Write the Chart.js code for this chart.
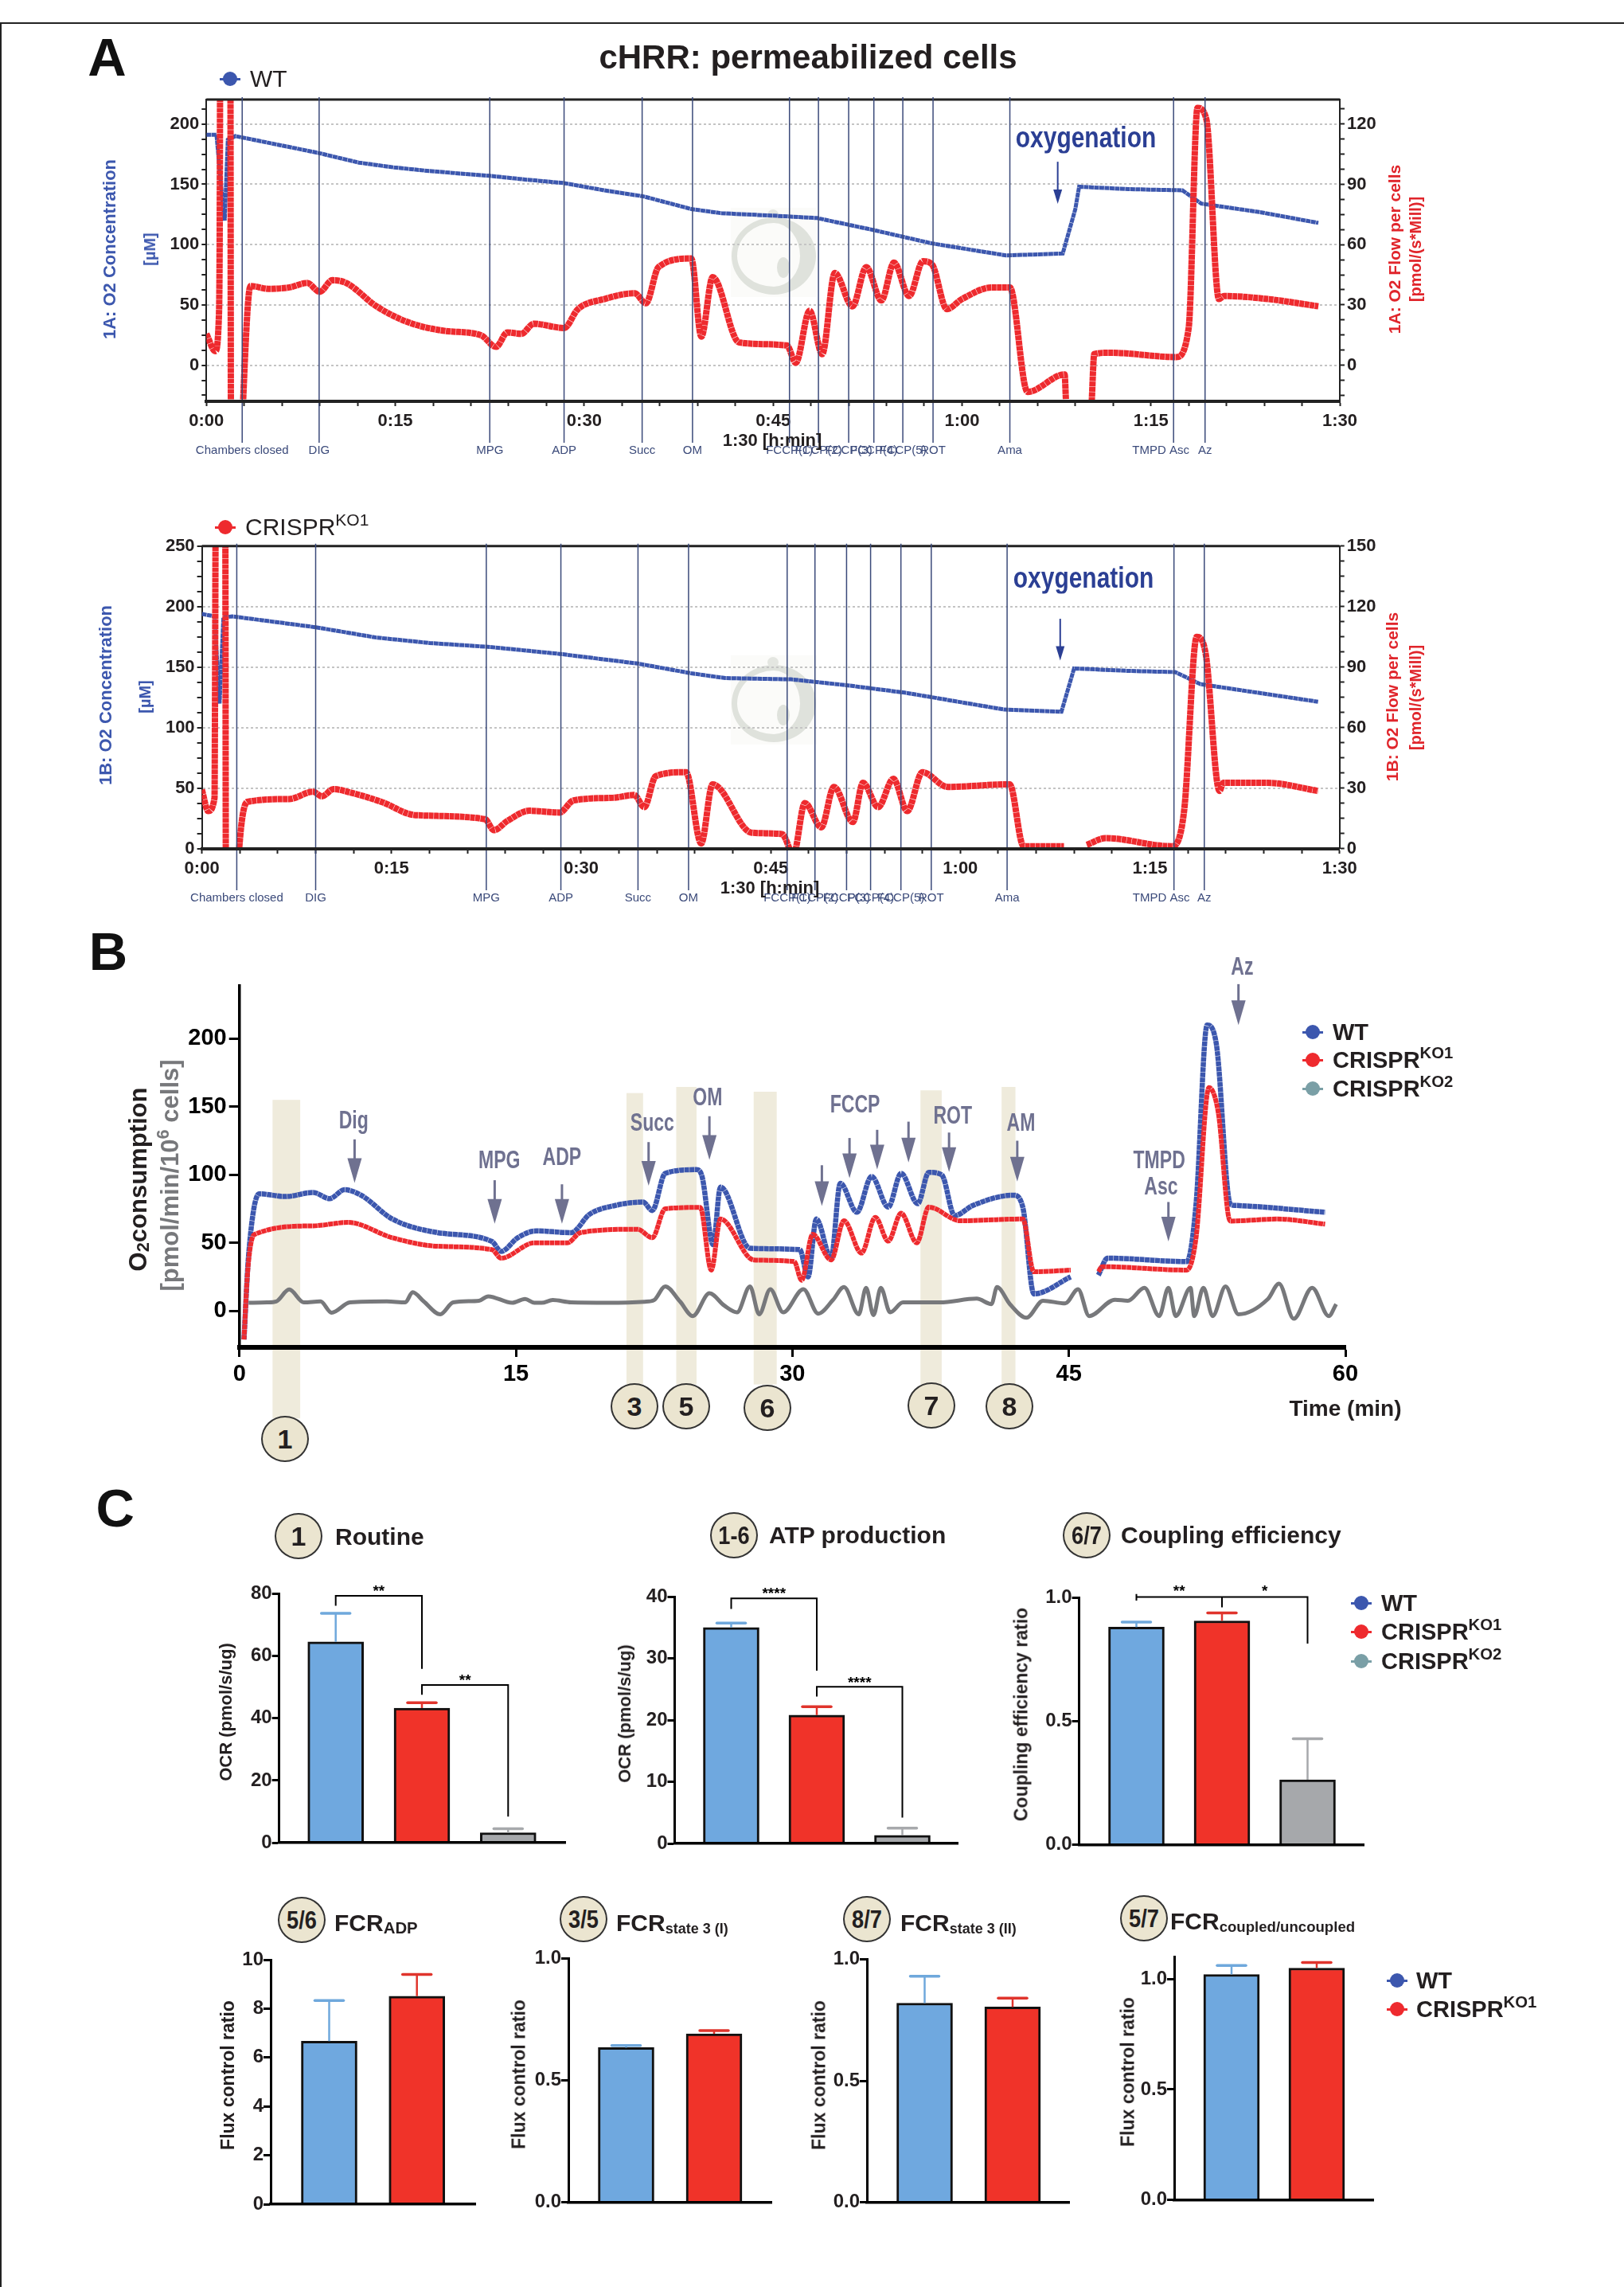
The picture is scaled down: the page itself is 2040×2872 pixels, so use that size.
<!DOCTYPE html>
<html>
<head>
<meta charset="utf-8">
<title>cHRR: permeabilized cells</title>
<script src="https://cdn.jsdelivr.net/npm/chart.js@4"></script>
<style>
  html, body { margin: 0; padding: 0; background: #fff; }
  #page { position: relative; width: 2040px; height: 2872px; overflow: hidden; background: #fff; font-family: "Liberation Sans", Arial, sans-serif; color: #231f20; }
  canvas { position: absolute; left: 0; top: 0; pointer-events: none; }
  .t { position: absolute; white-space: nowrap; line-height: 1; }
  .t sup { font-size: .7em; vertical-align: .55em; line-height: 0; }
  .t sub { vertical-align: -.15em; line-height: 0; }
</style>
</head>
<body>
<div id="page"></div>
<script>
// panel A, top trace (WT)
const a1O2Time = [0, 0.8, 1.25, 1.45, 1.7, 2.3, 8.9, 12.1, 14.9, 17.7, 22.5, 25.3, 28.4, 31.6, 34.7, 38.5, 40.9, 45, 48.5, 53, 57.6, 63.5, 68, 69, 69.3, 73.2, 77.5, 79, 83.6, 88.3];
const a1O2 = [191, 191, 139, 120, 187, 190, 176, 168, 164, 161, 157, 154, 151, 145, 140, 129.5, 126, 124, 122, 112, 101, 91, 92.6, 129.5, 148, 146, 145, 134, 127, 118];
const a1FlowTime = [0, 0.7, 1, 1.05, 1.1, 1.9, 1.95, 2.8, 2.9, 3.5, 4.9, 6.6, 8, 9, 10, 11.1, 13.5, 16, 19, 21.8, 23, 23.9, 25, 26, 28.4, 29.5, 31.6, 34, 34.9, 35.9, 38.5, 39.3, 40.2, 42.3, 46.1, 46.8, 47.9, 48.9, 49.9, 51.3, 52.4, 53.6, 54.6, 55.8, 56.9, 57.6, 58.8, 60, 62.4, 63.8, 65.2, 68.15, 68.25, 69, 70.3, 70.5, 71.8, 77, 78, 78.7, 79.4, 80.4, 80.8, 84.3, 88.3];
const a1Flow = [15.6, 7, 26, 60, 160, 160, -40, -40, -20, 39.4, 38, 38.7, 40.9, 36.5, 42.3, 40.9, 29.3, 21.4, 17, 14.9, 9.1, 16.3, 15.6, 20.6, 18.5, 27.9, 32.9, 35.8, 30.8, 48.8, 53.1, 14.2, 43.8, 11.3, 9.8, 1.2, 27.1, 5.5, 45.9, 29.3, 48.8, 32.2, 51, 34.4, 51.7, 50.3, 27.9, 32.9, 38.7, 38.7, -13.3, -4.6, -17, null, -18.3, 5.5, 6.2, 4, 18.5, 128, 122.5, 32.9, 34.4, 32.9, 29.3];

// panel A, bottom trace (CRISPR KO1)
const a2O2Time = [0, 1, 1.4, 1.7, 2.4, 9, 13.8, 18, 22.8, 28.3, 34.5, 38.7, 41.4, 46.6, 51.1, 55.6, 63.5, 68, 69, 73.2, 77, 79, 88.3];
const a2O2 = [194, 192, 120, 191, 192, 183, 174.5, 170, 166.7, 161, 153, 145, 141, 140, 135, 129, 115, 113.3, 149, 147, 146, 136, 121.5];
const a2FlowTime = [0, 0.5, 1, 1.03, 1.1, 1.85, 1.9, 2.8, 2.95, 3.6, 6.9, 8.8, 9.5, 10.4, 11.7, 14.2, 16.9, 22.4, 23.1, 24.2, 25.9, 28.3, 29.4, 32.5, 34.2, 35, 35.9, 38.3, 39.5, 40.4, 43.5, 45.9, 46.8, 47.7, 49, 50, 51.5, 52.3, 53.5, 54.7, 55.8, 57, 59, 63.9, 65, 68.2, 69, 70, 71.5, 76.7, 77.7, 78.7, 79.4, 80.5, 80.8, 84.3, 88.3];
const a2Flow = [29.3, 18.7, 25.3, 60, 170, 170, -20, -20, 0, 23.3, 24.7, 28.3, 26, 29.6, 28, 23.3, 16.7, 14.7, 9.3, 14, 18.9, 18, 24, 25.3, 26.7, 20.7, 36, 38, 2.7, 32, 8, 7.3, -2.7, 22.7, 10.7, 30.7, 13.3, 32.7, 20.7, 34.7, 18.7, 38, 30.7, 32, 1.3, 1.3, null, 2, 5.3, 1.3, 18.7, 105, 97, 28.7, 32.7, 32.7, 28.7];

// injection marks of the respirometry runs
const eventNames = ['Chambers closed', 'DIG', 'MPG', 'ADP', 'Succ', 'OM', 'FCCP(1)', 'FCCP(2)', 'FCCP(3)', 'FCCP(4)', 'FCCP(5)', 'ROT', 'Ama', 'TMPD Asc', 'Az'];
const a1EventTimes = [2.84, 8.95, 22.5, 28.4, 34.6, 38.6, 46.3, 48.6, 51, 53, 55.3, 57.7, 63.8, 76.8, 79.3];
const a2EventTimes = [2.76, 9, 22.5, 28.4, 34.5, 38.5, 46.3, 48.5, 51, 52.9, 55.3, 57.7, 63.7, 76.9, 79.3];
const timeTicks = [0, 15, 30, 45, 60, 75, 90];

// panel B traces
const bWtTime = [0.25, 0.5, 1.07, 2.5, 4, 4.9, 5.7, 6.6, 8.3, 10.75, 13.7, 14.2, 15.1, 16.1, 18, 19, 20.4, 21.9, 22.4, 23.1, 24.8, 25.1, 25.7, 26.1, 27.7, 30.4, 30.85, 31.3, 32.1, 32.6, 33.5, 34.3, 35.2, 35.9, 36.8, 37.4, 38.1, 38.8, 39.8, 42, 42.5, 43.1, 45.1, 45.8, 46.6, 47.1, 51.4, 51.9, 52.5, 53, 53.75, 54, 58.9];
const bWt = [-21, 41, 86, 84, 87, 82.5, 89, 85, 67.5, 57.5, 51, 43.75, 53.75, 58.75, 57.5, 71, 77.5, 80, 73.75, 101, 103.75, 98.75, 48.75, 91, 46, 45, 25, 67.5, 38.75, 93.75, 72.5, 98.75, 76.25, 101, 78.75, 101.75, 100, 70, 77.5, 85, 76.25, 12.5, 25, null, 26.25, 38.75, 36.25, 78.75, 210, 196, 78.75, 77.5, 72.5];
const bKo1Time = [0.25, 0.45, 0.8, 4, 5.9, 8.3, 10.75, 13.7, 14.2, 16, 17.8, 18.5, 21.6, 22.4, 23.1, 25, 25.6, 26.1, 27.9, 30.1, 30.5, 31.1, 32.1, 32.8, 33.75, 34.5, 35.2, 35.9, 36.75, 37.4, 39.1, 42.5, 43.1, 45.1, 45.8, 46.6, 46.8, 51.4, 51.9, 52.6, 53.1, 53.75, 56.3, 58.9];
const bKo1 = [-21, 29, 56, 62.5, 65, 53.75, 47.5, 45, 38.75, 50, 50, 57.5, 60, 53.75, 75, 76, 30, 67.5, 37.5, 36.25, 22.5, 56.25, 37.5, 66.25, 42.5, 68.75, 51.25, 71.75, 50, 76.25, 66.25, 67.5, 28.75, 30, null, 28.75, 32.5, 30, 53.75, 164, 146, 66, 67.5, 63.75];
const bKo2Time = [0.5, 1.5, 2.0, 2.7, 3.5, 4.4, 5, 6, 8, 9, 9.4, 10, 10.9, 11.6, 13, 13.5, 14.8, 15.5, 16, 16.4, 17, 18, 20, 22, 22.5, 23.1, 23.9, 24.6, 25.5, 26.3, 27, 27.7, 28.2, 28.8, 29.5, 30.6, 31.4, 32.2, 32.8, 33.6, 34, 34.4, 34.8, 35.3, 36, 38, 40, 40.8, 41.1, 41.8, 42.7, 43.6, 44.8, 45.5, 46.1, 47.5, 48.2, 49.1, 49.9, 50.4, 50.8, 51.6, 51.8, 52.3, 52.8, 53.5, 54.2, 55.8, 56.4, 57.2, 58.2, 59.1, 59.5];
const bKo2 = [6, 6.25, 7, 15.75, 6.25, 7, -1.25, 6.25, 7, 6.25, 13.75, 7, -2.5, 6.25, 7.5, 10.75, 6, 8.75, 6, 6, 8, 6.25, 6, 6.75, 8, 18, 7, -3.75, 13, 4, -1, 18, -2.5, 16, -1, 16, -2, 8, 17.5, -2.5, 17, -3, 17, -1, 6.25, 6.25, 9, 5, 17.5, 5, -5, 7.5, 5.5, 16, -3.75, 8.25, 7.5, 17, -3.75, 17, -3.75, 17, -3.75, 17, -3.75, 18, -2.5, 8.75, 20, -5.75, 17, -3.75, 5];

// panel B shaded states and injection arrows
const stateNames = ['1', '3', '5', '6', '7', '8'];
const stateStart = [1.8, 21, 23.7, 27.9, 36.95, 41.35];
const stateEnd = [3.3, 21.9, 24.8, 29.15, 38.1, 42.1];
const stateTop = [155, 160, 164.5, 161, 162, 164.5];
const stateBottom = [-79, -54, -54, -54, -54, -54];
const arrowTimes = [6.25, 13.85, 17.5, 22.2, 25.5, 31.6, 33.1, 34.6, 36.3, 38.5, 42.2, 50.4, 54.2];
const arrowFrom = [126, 96, 93, 124, 143, 107, 127, 133, 139, 131, 125, 80, 240];
const arrowTo = [94, 64, 64, 92, 111, 77, 97.5, 104, 109, 102, 95, 51, 210];
const drugNames = ['Dig', 'MPG', 'ADP', 'Succ', 'OM', 'FCCP', 'ROT', 'AM', 'TMPD', 'Asc', 'Az'];
const drugTimes = [6.2, 14.1, 17.5, 22.4, 25.4, 33.4, 38.7, 42.4, 49.9, 50, 54.4];
const drugLevels = [139, 110, 112.5, 137.5, 156, 151, 143, 137.5, 110, 90.75, 252];

// panel C bars, mean and top of the error bar
const groups3 = ['WT', 'CRISPR KO1', 'CRISPR KO2'];
const groups2 = ['WT', 'CRISPR KO1'];
const routine = [64.6, 43.3, 3.2];
const routineErr = [73.8, 45, 4.5];
const atp = [35, 20.8, 1.3];
const atpErr = [35.7, 22.15, 2.5];
const coupling = [0.88, 0.905, 0.263];
const couplingErr = [0.9, 0.937, 0.429];
const fcrAdp = [6.67, 8.51];
const fcrAdpErr = [8.33, 9.4];
const fcrState1 = [0.634, 0.691];
const fcrState1Err = [0.643, 0.704];
const fcrState2 = [0.82, 0.804];
const fcrState2Err = [0.931, 0.841];
const fcrCoupled = [1.02, 1.049];
const fcrCoupledErr = [1.061, 1.074];

const W = 2040, H = 2872, YAX = 120, XAX = 80;
const ink = '#231f20', blue = '#3c57ae', red = '#ee2a2e', slate = '#3b4a7a', drug = '#6f7190';
const barColors = ['#6fa8df', '#f03329', '#a6a8ab'];
const errColors = ['#6fa8dc', '#e0342c', '#a7a9ac'];
const hatch = [6, 0.5];
const page = document.getElementById('page');

function txt(html, x, y, o = {}) {
  const d = document.createElement('div');
  d.className = 't';
  d.innerHTML = html;
  const tx = o.left ? 'translate(0,-50%)' : 'translate(-50%,-50%)';
  d.style.cssText = `left:${x}px;top:${y}px;font-size:${o.size || 22}px;font-weight:${o.weight || 'bold'};color:${o.color || ink};transform:${tx} rotate(${o.rot || 0}deg) scaleX(${o.sx || 1});transform-origin:${o.left ? 'left center' : 'center'};`;
  page.appendChild(d);
}
function dot(x, y, color) {
  const l = document.createElement('div');
  l.style.cssText = `position:absolute;left:${x - 13}px;top:${y - 1.5}px;width:26px;height:3px;background:${color};`;
  const c = document.createElement('div');
  c.style.cssText = `position:absolute;left:${x - 9}px;top:${y - 9}px;width:18px;height:18px;border-radius:50%;background:${color};`;
  page.appendChild(l);
  page.appendChild(c);
}
function badge(label, x, y) {
  const c = document.createElement('div');
  c.style.cssText = `position:absolute;left:${x - 30}px;top:${y - 29}px;width:60px;height:58px;box-sizing:border-box;border-radius:50%;background:#ebe5d0;border:2.5px solid #333;`;
  page.appendChild(c);
  txt(label, x, y, { size: label.length > 1 ? 32 : 34, sx: label.length > 1 ? 0.85 : 1 });
}
function watermark(x, y) {
  const box = document.createElement('div');
  box.style.cssText = `position:absolute;left:${x - 54}px;top:${y - 60}px;width:108px;height:112px;background:#fbfbf9;`;
  const ring = document.createElement('div');
  ring.style.cssText = `position:absolute;left:${x - 53}px;top:${y - 48}px;width:106px;height:97px;box-sizing:border-box;border-radius:50%;border:7px solid #dfe2dc;border-right-width:20px;border-bottom-width:10px;`;
  const stem = document.createElement('div');
  stem.style.cssText = `position:absolute;left:${x - 8}px;top:${y - 58}px;width:14px;height:13px;border-radius:50%;background:#e4e6e1;`;
  const fetus = document.createElement('div');
  fetus.style.cssText = `position:absolute;left:${x + 4}px;top:${y + 2}px;width:16px;height:26px;border-radius:50%;background:#dfe2dc;`;
  page.appendChild(box);
  page.appendChild(ring);
  page.appendChild(stem);
  page.appendChild(fetus);
}

function newCanvas() {
  const c = document.createElement('canvas');
  c.width = W;
  c.height = H;
  c.style.width = W + 'px';
  c.style.height = H + 'px';
  page.appendChild(c);
  return c.getContext('2d');
}
function padFor(r, rightAxis) {
  return {
    left: r.l - YAX,
    right: W - r.r - (rightAxis ? YAX : 0),
    top: r.t,
    bottom: H - r.b - XAX
  };
}
function fixY(s) { s.width = YAX; }
function fixX(s) { s.height = XAX; }
function pts(xs, ys) { return xs.map((x, i) => ({ x, y: ys[i] })); }
function hmm(v) { return Math.floor(v / 60) + ':' + String(v % 60).padStart(2, '0'); }

function narrow(ctx, text, x, y, font, color, sx) {
  ctx.save();
  ctx.translate(x, y);
  ctx.scale(sx, 1);
  ctx.font = font;
  ctx.fillStyle = color;
  ctx.textAlign = 'center';
  ctx.textBaseline = 'middle';
  ctx.fillText(text, 0, 0);
  ctx.restore();
}
function arrow(ctx, x, y0, y1, color, stemW, headW, headL) {
  ctx.save();
  ctx.strokeStyle = color;
  ctx.fillStyle = color;
  ctx.lineWidth = stemW;
  ctx.beginPath();
  ctx.moveTo(x, y0);
  ctx.lineTo(x, y1 - headL + 1);
  ctx.stroke();
  ctx.beginPath();
  ctx.moveTo(x - headW / 2, y1 - headL);
  ctx.lineTo(x + headW / 2, y1 - headL);
  ctx.lineTo(x, y1);
  ctx.closePath();
  ctx.fill();
  ctx.restore();
}

// one respirometry panel: O2 on the left axis, flow on the right one
function oroboros(r, cfg) {
  new Chart(newCanvas(), {
    type: 'line',
    data: {
      datasets: [
        { data: pts(cfg.flowT, cfg.flow), yAxisID: 'yR', borderColor: red, borderWidth: 8, borderDash: hatch, pointRadius: 0, cubicInterpolationMode: 'monotone', spanGaps: false },
        { data: pts(cfg.o2T, cfg.o2), yAxisID: 'y', borderColor: blue, borderWidth: 5, borderDash: hatch, pointRadius: 0 }
      ]
    },
    options: {
      responsive: false, animation: false, devicePixelRatio: 1, parsing: false,
      layout: { padding: padFor(r, true) },
      plugins: { legend: { display: false }, tooltip: { enabled: false } },
      scales: {
        x: {
          type: 'linear', min: 0, max: 90, afterFit: fixX,
          border: { color: '#222', width: 4, z: 1 },
          grid: { drawOnChartArea: false, tickLength: 6, tickColor: '#222', tickWidth: 2 },
          ticks: { stepSize: 3, autoSkip: false, maxRotation: 0, includeBounds: false, padding: 6, color: ink, font: { size: 22, weight: 'bold' },
            callback: v => timeTicks.includes(v) ? hmm(v) : '' }
        },
        y: {
          min: cfg.min, max: cfg.max, afterFit: fixY,
          border: { color: '#222', width: 2, dash: [3, 3] },
          grid: { color: c => c.tick.value % 50 === 0 && c.tick.value < 250 ? '#c4c4c4' : 'rgba(0,0,0,0)', lineWidth: 2, tickLength: 6, tickColor: '#222', tickWidth: 2, tickBorderDash: [] },
          ticks: { stepSize: 12.5, autoSkip: false, includeBounds: false, padding: 3, color: ink, font: { size: 22, weight: 'bold' },
            callback: v => v % 50 === 0 ? String(v) : '' }
        },
        yR: {
          position: 'right', min: cfg.min * 0.6, max: cfg.max * 0.6, afterFit: fixY,
          border: { color: '#222', width: 2 },
          grid: { drawOnChartArea: false, tickLength: 6, tickColor: '#222', tickWidth: 2 },
          ticks: { stepSize: 7.5, autoSkip: false, includeBounds: false, padding: 3, color: ink, font: { size: 22, weight: 'bold' },
            callback: v => v % 30 === 0 ? String(v) : '' }
        }
      }
    },
    plugins: [{
      id: 'marks',
      afterDatasetsDraw(chart) {
        const { ctx, chartArea: a, scales } = chart;
        ctx.save();
        ctx.strokeStyle = '#222';
        ctx.lineWidth = 3;
        ctx.beginPath();
        ctx.moveTo(a.left, a.top);
        ctx.lineTo(a.right, a.top);
        ctx.stroke();
        cfg.events.forEach((t, i) => {
          const x = scales.x.getPixelForValue(t);
          ctx.strokeStyle = slate;
          ctx.lineWidth = 1.5;
          ctx.beginPath();
          ctx.moveTo(x, a.top - 3);
          ctx.lineTo(x, a.bottom + 52);
          ctx.stroke();
          // the TMPD Asc label sits left of its line so it clears Az
          const shift = eventNames[i] === 'TMPD Asc' ? -16 : 0;
          narrow(ctx, eventNames[i], x + shift, a.bottom + 62, '15px "Liberation Sans"', slate, 1);
        });
        ctx.restore();
        const ax = scales.x.getPixelForValue(cfg.oxyT);
        arrow(ctx, ax, scales.y.getPixelForValue(cfg.oxyFrom), scales.y.getPixelForValue(cfg.oxyTo), '#2b3f94', 2, 11, 18);
      }
    }]
  });
}

// one bar panel with its error bars and significance brackets
function barPanel(r, cfg) {
  const c0 = cfg.centers[0];
  const step = cfg.centers[1] - c0;
  new Chart(newCanvas(), {
    type: 'bar',
    data: {
      labels: cfg.names,
      datasets: [{
        data: cfg.means.map((v, i) => ({ x: i, y: v })),
        backgroundColor: barColors,
        borderColor: '#111',
        borderWidth: { top: 3, left: 3, right: 3, bottom: 0 },
        borderSkipped: false,
        barThickness: 70
      }]
    },
    options: {
      responsive: false, animation: false, devicePixelRatio: 1,
      layout: { padding: padFor(r, false) },
      plugins: { legend: { display: false }, tooltip: { enabled: false } },
      scales: {
        x: {
          type: 'linear', offset: false, min: (r.l - c0) / step, max: (r.r - c0) / step, afterFit: fixX,
          border: { color: '#000', width: 3.5, z: 1 },
          grid: { display: false, offset: false },
          ticks: { display: false }
        },
        y: {
          min: 0, max: cfg.max, afterFit: fixY,
          border: { color: '#000', width: 3, z: 1 },
          grid: { drawOnChartArea: false, tickLength: 9, tickColor: '#000', tickWidth: 3 },
          ticks: { stepSize: cfg.step, autoSkip: false, includeBounds: false, padding: 0, color: ink, font: { size: 24, weight: 'bold' },
            callback: v => cfg.step < 1 ? v.toFixed(1) : String(v) }
        }
      }
    },
    plugins: [{
      id: 'errs',
      afterDatasetsDraw(chart) {
        const { ctx, scales: { x, y } } = chart;
        ctx.save();
        cfg.errs.forEach((e, i) => {
          const px = x.getPixelForValue(i);
          ctx.strokeStyle = errColors[i];
          ctx.lineWidth = 2.5;
          ctx.beginPath();
          ctx.moveTo(px, y.getPixelForValue(cfg.means[i]));
          ctx.lineTo(px, y.getPixelForValue(e));
          ctx.stroke();
          ctx.lineWidth = 3.5;
          ctx.lineCap = 'round';
          ctx.beginPath();
          ctx.moveTo(px - 18, y.getPixelForValue(e));
          ctx.lineTo(px + 18, y.getPixelForValue(e));
          ctx.stroke();
          ctx.lineCap = 'butt';
        });
        (cfg.brackets || []).forEach(b => {
          const xa = x.getPixelForValue(b.from), xb = x.getPixelForValue(b.to), yt = y.getPixelForValue(b.top);
          ctx.strokeStyle = '#000';
          ctx.lineWidth = 2;
          ctx.beginPath();
          b.drops.forEach(d => {
            ctx.moveTo(x.getPixelForValue(d[0]), y.getPixelForValue(d[1]));
            ctx.lineTo(x.getPixelForValue(d[0]), y.getPixelForValue(d[2]));
          });
          ctx.moveTo(xa - 1, yt);
          ctx.lineTo(xb + 1, yt);
          ctx.stroke();
          b.stars.forEach(s => narrow(ctx, s[0], x.getPixelForValue(s[1]), y.getPixelForValue(s[2]) + 4, 'bold 19px "Liberation Sans"', '#000', 1));
        });
        ctx.restore();
      }
    }]
  });
}

// ---- page furniture under the charts
const frameTop = document.createElement('div');
frameTop.style.cssText = 'position:absolute;left:0;top:28px;width:2040px;height:2px;background:#222;';
const frameLeft = document.createElement('div');
frameLeft.style.cssText = 'position:absolute;left:0;top:28px;width:2px;height:2844px;background:#222;';
page.appendChild(frameTop);
page.appendChild(frameLeft);
watermark(972, 321);
watermark(972, 883);

// ---- panel A
oroboros({ l: 259.3, r: 1683, t: 125, b: 504 }, { flowT: a1FlowTime, flow: a1Flow, o2T: a1O2Time, o2: a1O2, events: a1EventTimes, min: -30, max: 220.3, oxyT: 67.6, oxyFrom: 168.7, oxyTo: 133.8 });
oroboros({ l: 253.6, r: 1682.7, t: 685.8, b: 1066 }, { flowT: a2FlowTime, flow: a2Flow, o2T: a2O2Time, o2: a2O2, events: a2EventTimes, min: 0, max: 250, oxyT: 67.9, oxyFrom: 190, oxyTo: 155.5 });

// ---- panel B
new Chart(newCanvas(), {
  type: 'line',
  data: {
    datasets: [
      { data: pts(bKo1Time, bKo1), borderColor: '#ee2a2e', borderWidth: 6, borderDash: hatch, pointRadius: 0, cubicInterpolationMode: 'monotone', spanGaps: false },
      { data: pts(bWtTime, bWt), borderColor: blue, borderWidth: 6.5, borderDash: hatch, pointRadius: 0, cubicInterpolationMode: 'monotone', spanGaps: false },
      { data: pts(bKo2Time, bKo2), borderColor: '#77787b', borderWidth: 5, pointRadius: 0, cubicInterpolationMode: 'monotone' }
    ]
  },
  options: {
    responsive: false, animation: false, devicePixelRatio: 1, parsing: false,
    layout: { padding: padFor({ l: 300.7, r: 1690, t: 1238, b: 1692 }, false) },
    plugins: { legend: { display: false }, tooltip: { enabled: false } },
    scales: {
      x: {
        type: 'linear', min: 0, max: 60, afterFit: fixX,
        border: { color: '#000', width: 6, z: 1 },
        grid: { drawOnChartArea: false, tickLength: 12, tickColor: '#000', tickWidth: 3 },
        ticks: { stepSize: 15, autoSkip: false, maxRotation: 0, padding: 5, color: '#000', font: { size: 29, weight: 'bold' } }
      },
      y: {
        min: -26.75, max: 238.75, afterFit: fixY,
        border: { color: '#000', width: 3.5 },
        grid: { drawOnChartArea: false, tickLength: 13, tickColor: '#000', tickWidth: 3 },
        ticks: { stepSize: 50, autoSkip: false, includeBounds: false, padding: 3, color: '#000', font: { size: 29, weight: 'bold' } }
      }
    }
  },
  plugins: [{
    id: 'states',
    beforeDatasetsDraw(chart) {
      const { ctx, scales: { x, y } } = chart;
      ctx.save();
      ctx.fillStyle = '#efebdc';
      stateStart.forEach((s, i) => {
        const x0 = x.getPixelForValue(s), x1 = x.getPixelForValue(stateEnd[i]);
        const y0 = y.getPixelForValue(stateTop[i]), y1 = y.getPixelForValue(stateBottom[i]);
        ctx.fillRect(x0, y0, x1 - x0, y1 - y0);
      });
      ctx.restore();
    },
    afterDatasetsDraw(chart) {
      const { ctx, scales: { x, y } } = chart;
      arrowTimes.forEach((t, i) => arrow(ctx, x.getPixelForValue(t), y.getPixelForValue(arrowFrom[i]), y.getPixelForValue(arrowTo[i]), drug, 3, 18, 31));
      drugNames.forEach((n, i) => narrow(ctx, n, x.getPixelForValue(drugTimes[i]), y.getPixelForValue(drugLevels[i]), 'bold 32px "Liberation Sans"', drug, 0.72));
    }
  }]
});

// ---- panel C
barPanel({ l: 350.7, r: 710, t: 2001.7, b: 2314 }, {
  names: groups3, means: routine, errs: routineErr, max: 80, step: 20, centers: [421.7, 530],
  brackets: [
    { from: 0, to: 1, top: 79.4, drops: [[0, 79.4, 76.2], [1, 79.4, 55.9]], stars: [['**', 0.5, 81.7]] },
    { from: 1, to: 2, top: 50.7, drops: [[1, 50.7, 47.6], [2, 50.7, 8.4]], stars: [['**', 1.5, 53]] }
  ]
});
barPanel({ l: 847.5, r: 1203, t: 2005, b: 2315 }, {
  names: groups3, means: atp, errs: atpErr, max: 40, step: 10, centers: [918.5, 1026],
  brackets: [
    { from: 0, to: 1, top: 39.7, drops: [[0, 39.7, 38], [1, 39.7, 28]], stars: [['****', 0.5, 40.9]] },
    { from: 1, to: 2, top: 25.4, drops: [[1, 25.4, 23.8], [2, 25.4, 4.2]], stars: [['****', 1.5, 26.5]] }
  ]
});
barPanel({ l: 1355.6, r: 1713.5, t: 2006, b: 2316.7 }, {
  names: groups3, means: coupling, errs: couplingErr, max: 1, step: 0.5, centers: [1427.5, 1535],
  brackets: [
    { from: 0, to: 2, top: 1.002, drops: [[0, 1.014, 0.987], [1, 1.002, 0.96], [2, 1.002, 0.813]], stars: [['**', 0.5, 1.036], ['*', 1.5, 1.036]] }
  ]
});
barPanel({ l: 340, r: 597.6, t: 2461, b: 2768 }, { names: groups2, means: fcrAdp, errs: fcrAdpErr, max: 10, step: 2, centers: [413.5, 523.7] });
barPanel({ l: 714, r: 969, t: 2459.3, b: 2765.7 }, { names: groups2, means: fcrState1, errs: fcrState1Err, max: 1, step: 0.5, centers: [786.5, 897] });
barPanel({ l: 1089, r: 1343, t: 2460.7, b: 2765.3 }, { names: groups2, means: fcrState2, errs: fcrState2Err, max: 1, step: 0.5, centers: [1161.5, 1272] });
barPanel({ l: 1475, r: 1725, t: 2457.3, b: 2762.7 }, { names: groups2, means: fcrCoupled, errs: fcrCoupledErr, max: 1.1, step: 0.5, centers: [1547, 1654] });

// ---- text over the charts
txt('A', 134.5, 71, { size: 67, color: '#111' });
txt('B', 136, 1193.5, { size: 67, color: '#111' });
txt('C', 144.6, 1893, { size: 67, color: '#111' });
txt('cHRR: permeabilized cells', 1015, 72, { size: 42 });

dot(289, 99, blue);
txt('WT', 314, 99, { left: true, size: 30, weight: 'normal' });
dot(283, 662, red);
txt('CRISPR<sup>KO1</sup>', 308, 662, { left: true, size: 30, weight: 'normal' });

txt('1A: O2 Concentration', 138, 313, { size: 22, color: blue, rot: -90 });
txt('[µM]', 188, 313, { size: 20, color: blue, rot: -90 });
txt('1A: O2 Flow per cells', 1751, 313, { size: 21, color: '#e0252b', rot: -90 });
txt('[pmol/(s*Mill)]', 1778, 313, { size: 20, color: '#e0252b', rot: -90 });
txt('1B: O2 Concentration', 133, 873, { size: 22, color: blue, rot: -90 });
txt('[µM]', 182, 875, { size: 20, color: blue, rot: -90 });
txt('1B: O2 Flow per cells', 1748, 875, { size: 21, color: '#e0252b', rot: -90 });
txt('[pmol/(s*Mill)]', 1778, 876, { size: 20, color: '#e0252b', rot: -90 });

txt('oxygenation', 1363.5, 172, { size: 37, color: '#2b3f94', sx: 0.81 });
txt('oxygenation', 1361, 725, { size: 37, color: '#2b3f94', sx: 0.81 });
txt('1:30 [h:min]', 970, 553, { size: 22 });
txt('1:30 [h:min]', 967, 1115, { size: 22 });

txt('O<sub style="font-size:.7em">2</sub>consumption', 173, 1481, { size: 31, rot: -90 });
txt('[pmol/min/10<sup>6</sup> cells]', 213, 1476, { size: 31, color: '#77787b', rot: -90 });
txt('Time (min)', 1690, 1769, { size: 28 });

badge('1', 358, 1807);
badge('3', 797, 1766);
badge('5', 862, 1766);
badge('6', 964, 1768);
badge('7', 1170, 1765);
badge('8', 1268, 1766);

dot(1649, 1296, blue);
txt('WT', 1674, 1296, { left: true, size: 29 });
dot(1649, 1331, red);
txt('CRISPR<sup>KO1</sup>', 1674, 1331, { left: true, size: 29 });
dot(1649, 1367, '#7a9fa6');
txt('CRISPR<sup>KO2</sup>', 1674, 1367, { left: true, size: 29 });

badge('1', 375, 1929);
txt('Routine', 421, 1930, { left: true, size: 30 });
badge('1-6', 921.5, 1928);
txt('ATP production', 966, 1928, { left: true, size: 30 });
badge('6/7', 1365, 1928);
txt('Coupling efficiency', 1408, 1928, { left: true, size: 30 });

dot(1710, 2013, blue);
txt('WT', 1735, 2013, { left: true, size: 29 });
dot(1710, 2049, red);
txt('CRISPR<sup>KO1</sup>', 1735, 2049, { left: true, size: 29 });
dot(1710, 2086, '#7a9fa6');
txt('CRISPR<sup>KO2</sup>', 1735, 2086, { left: true, size: 29 });

txt('OCR (pmol/s/ug)', 284, 2150, { size: 22, rot: -90 });
txt('OCR (pmol/s/ug)', 785, 2152, { size: 22, rot: -90 });
txt('Coupling efficiency ratio', 1283, 2153, { size: 23, rot: -90 });

badge('5/6', 379, 2411);
txt('FCR<sub style="font-size:.68em">ADP</sub>', 420, 2415, { left: true, size: 30 });
badge('3/5', 733, 2410);
txt('FCR<sub style="font-size:.6em">state 3 (I)</sub>', 774, 2415, { left: true, size: 30 });
badge('8/7', 1089, 2410);
txt('FCR<sub style="font-size:.6em">state 3 (II)</sub>', 1131, 2415, { left: true, size: 30 });
badge('5/7', 1437, 2409);
txt('FCR<sub style="font-size:.62em">coupled/uncoupled</sub>', 1470, 2413, { left: true, size: 30 });

txt('Flux control ratio', 286, 2606, { size: 23, rot: -90 });
txt('Flux control ratio', 651.5, 2605, { size: 23, rot: -90 });
txt('Flux control ratio', 1029, 2606, { size: 23, rot: -90 });
txt('Flux control ratio', 1416.5, 2602, { size: 23, rot: -90 });

dot(1755, 2487, blue);
txt('WT', 1779, 2487, { left: true, size: 29 });
dot(1755, 2523, red);
txt('CRISPR<sup>KO1</sup>', 1779, 2523, { left: true, size: 29 });
</script>
</body>
</html>
